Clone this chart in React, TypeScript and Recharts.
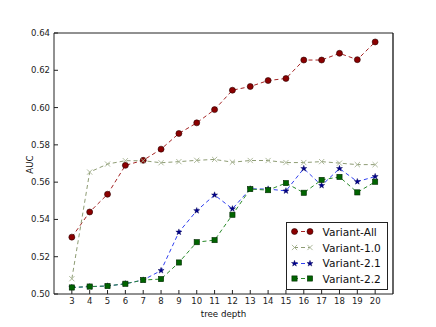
import React from 'react';
import { LineChart, Line, XAxis, YAxis, Legend } from 'recharts';

const depths = [3, 4, 5, 6, 7, 8, 9, 10, 11, 12, 13, 14, 15, 16, 17, 18, 19, 20];
const variantAll = [0.5305, 0.544, 0.5535, 0.569, 0.5717, 0.5777, 0.5861, 0.5918, 0.5989, 0.6093, 0.6113, 0.6145, 0.6156, 0.6255, 0.6255, 0.6291, 0.6257, 0.6352];
const variant10 = [0.5082, 0.5654, 0.5697, 0.5715, 0.5715, 0.5704, 0.571, 0.5717, 0.5722, 0.5707, 0.5716, 0.5716, 0.5705, 0.5705, 0.571, 0.5702, 0.5694, 0.5694];
const variant21 = [0.5035, 0.5039, 0.5043, 0.5055, 0.5075, 0.5126, 0.5332, 0.5447, 0.5531, 0.5457, 0.5564, 0.5563, 0.5553, 0.5673, 0.5582, 0.5673, 0.5603, 0.563];
const variant22 = [0.5035, 0.504, 0.5043, 0.5055, 0.5075, 0.508, 0.5169, 0.5278, 0.5289, 0.5425, 0.5563, 0.5557, 0.5595, 0.5543, 0.5612, 0.5628, 0.5545, 0.5602];
const yTicks = [0.5, 0.52, 0.54, 0.56, 0.58, 0.6, 0.62, 0.64];
const seriesNames = ['Variant-All', 'Variant-1.0', 'Variant-2.1', 'Variant-2.2'];

const data = depths.map((x, i) => ({
  x,
  all: variantAll[i],
  v10: variant10[i],
  v21: variant21[i],
  v22: variant22[i],
}));

const FONT = "'DejaVu Sans', sans-serif";

type MarkerKind = 'circle' | 'x' | 'star' | 'square';

const Marker = ({ kind, cx, cy }: { kind: MarkerKind; cx: number; cy: number }) => {
  if (kind === 'circle') {
    return <circle cx={cx} cy={cy} r={3} fill="#8b0000" stroke="#2a0000" strokeWidth={0.6} />;
  }
  if (kind === 'x') {
    const s = 2.6;
    return (
      <g stroke="#a6b292" strokeWidth={0.9}>
        <line x1={cx - s} y1={cy - s} x2={cx + s} y2={cy + s} />
        <line x1={cx - s} y1={cy + s} x2={cx + s} y2={cy - s} />
      </g>
    );
  }
  if (kind === 'star') {
    const pts: string[] = [];
    for (let k = 0; k < 10; k++) {
      const r = k % 2 === 0 ? 3.2 : 1.3;
      const a = -Math.PI / 2 + (k * Math.PI) / 5;
      pts.push(`${cx + r * Math.cos(a)},${cy + r * Math.sin(a)}`);
    }
    return <polygon points={pts.join(' ')} fill="#00008b" stroke="#000050" strokeWidth={0.4} />;
  }
  return <rect x={cx - 2.6} y={cy - 2.6} width={5.2} height={5.2} fill="#006400" stroke="#002800" strokeWidth={0.6} />;
};

const seriesStyle = [
  { key: 'all', kind: 'circle' as MarkerKind, stroke: '#a52525' },
  { key: 'v10', kind: 'x' as MarkerKind, stroke: '#8e9c74' },
  { key: 'v21', kind: 'star' as MarkerKind, stroke: '#3040f0' },
  { key: 'v22', kind: 'square' as MarkerKind, stroke: '#2a8a2a' },
];

const LegendBox = () => (
  <div
    style={{
      position: 'absolute',
      left: 286,
      top: 222,
      width: 100,
      height: 65,
      border: '1px solid #222',
      background: '#fff',
      boxSizing: 'content-box',
      fontFamily: FONT,
      fontSize: 10.6,
      color: '#111',
      paddingTop: 1,
    }}
  >
    {seriesStyle.map((s, i) => (
      <div key={s.key} style={{ display: 'flex', alignItems: 'center', height: 15.7 }}>
        <svg width={34} height={15} style={{ display: 'block' }}>
          <line x1={7} y1={7.5} x2={23} y2={7.5} stroke={s.stroke} strokeWidth={1} strokeDasharray="4 3" />
          <Marker kind={s.kind} cx={7.5} cy={7.5} />
          <Marker kind={s.kind} cx={23} cy={7.5} />
        </svg>
        <span style={{ marginLeft: 1.5, whiteSpace: 'nowrap' }}>{seriesNames[i]}</span>
      </div>
    ))}
  </div>
);

const YLabel = (props: any) => {
  const vb = props.viewBox || {};
  const x = (vb.x || 0) + 33;
  const y = (vb.y || 0) + (vb.height || 0) / 2 + 1;
  return (
    <text x={x} y={y} transform={`rotate(-90, ${x}, ${y})`} textAnchor="middle" fontSize={8.7} fill="#111" fontFamily={FONT}>
      AUC
    </text>
  );
};

const XLabel = (props: any) => {
  const vb = props.viewBox || {};
  const x = (vb.x || 0) + (vb.width || 0) / 2;
  const y = (vb.y || 0) + 22.5;
  return (
    <text x={x} y={y} textAnchor="middle" fontSize={8.7} fill="#111" fontFamily={FONT}>
      tree depth
    </text>
  );
};

const tickStyle = { fontSize: 8.5, fill: '#222', fontFamily: FONT };

export default function App() {
  return (
    <div style={{ position: 'absolute', left: 0, top: 0, width: 436, height: 327, background: '#fff' }}>
      <LineChart width={436} height={327} data={data} margin={{ top: 0, right: 0, bottom: 0, left: 0 }} style={{ fontFamily: FONT }}>
        <XAxis
          dataKey="x"
          type="number"
          domain={[2, 21]}
          ticks={depths}
          interval={0}
          height={33}
          tickSize={-4}
          tickMargin={8}
          tick={tickStyle}
          stroke="#222"
          axisLine={{ stroke: '#222', strokeWidth: 1 }}
          tickLine={{ stroke: '#222' }}
          label={<XLabel />}
        />
        <XAxis
          xAxisId="top"
          orientation="top"
          dataKey="x"
          type="number"
          domain={[2, 21]}
          ticks={depths}
          interval={0}
          height={33}
          tickSize={-4}
          tick={false}
          axisLine={{ stroke: '#222', strokeWidth: 1 }}
          tickLine={{ stroke: '#222' }}
        />
        <YAxis
          type="number"
          domain={[0.5, 0.64]}
          ticks={yTicks}
          interval={0}
          width={54}
          tickSize={-4}
          tickMargin={8}
          tick={tickStyle}
          tickFormatter={(v: number) => v.toFixed(2)}
          axisLine={{ stroke: '#222', strokeWidth: 1 }}
          tickLine={{ stroke: '#222' }}
          label={<YLabel />}
        />
        <YAxis
          yAxisId="right"
          orientation="right"
          type="number"
          domain={[0.5, 0.64]}
          ticks={yTicks}
          interval={0}
          width={43}
          tickSize={-4}
          tick={false}
          axisLine={{ stroke: '#111', strokeWidth: 1.3 }}
          tickLine={{ stroke: '#222' }}
        />
        {seriesStyle.map((s, i) => (
          <Line
            key={s.key}
            dataKey={s.key}
            name={seriesNames[i]}
            type="linear"
            stroke={s.stroke}
            strokeWidth={1}
            strokeDasharray="4 3"
            isAnimationActive={false}
            dot={(p: any) => <Marker key={`${s.key}-${p.index}`} kind={s.kind} cx={p.cx} cy={p.cy} />}
            activeDot={false}
          />
        ))}
        <Legend layout="vertical" align="center" verticalAlign="middle" content={() => null} />
      </LineChart>
      <LegendBox />
    </div>
  );
}
